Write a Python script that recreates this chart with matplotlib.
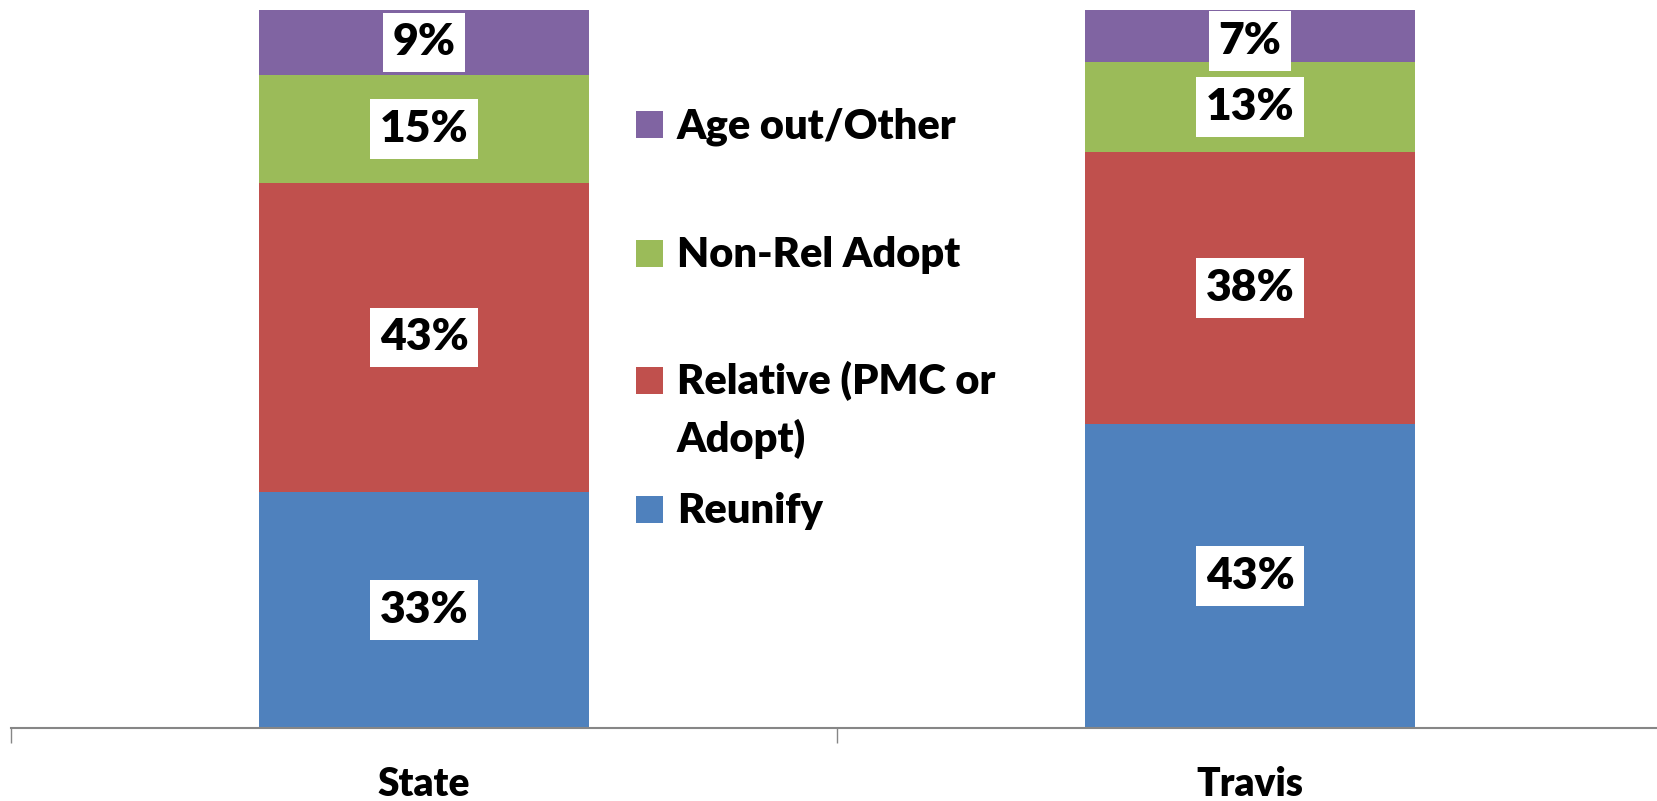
import matplotlib
matplotlib.use("Agg")
import matplotlib.pyplot as plt
from matplotlib.patches import Rectangle
import numpy as np

# ---- data ----
categories = ["State", "Travis"]
series_names = ["Reunify", "Relative (PMC or\nAdopt)", "Non-Rel Adopt", "Age out/Other"]
reunify = [32.9, 42.4]
relative = [43.0, 37.8]
nonrel = [15.1, 12.6]
ageout = [9.0, 7.2]
label_reunify = ["33%", "43%"]
label_relative = ["43%", "38%"]
label_nonrel = ["15%", "13%"]
label_ageout = ["9%", "7%"]

colors = ["#4F81BD", "#C0504D", "#9BBB59", "#8064A2"]
FONT = "Lato"
WEIGHT = "heavy"

W, H = 1658, 801
fig = plt.figure(figsize=(W / 100, H / 100), dpi=100)
ax = fig.add_axes([11 / W, (H - 728) / H, 1652 / W, (728 - 10) / H])

series = [reunify, relative, nonrel, ageout]
labels = [label_reunify, label_relative, label_nonrel, label_ageout]
x = np.arange(len(categories))
bottom = np.zeros(len(categories))
for vals, labs, col in zip(series, labels, colors):
    vals = np.array(vals)
    ax.bar(x, vals, width=0.4, bottom=bottom, color=col, edgecolor="none", zorder=2)
    for xi, b, v, lab in zip(x, bottom, vals, labs):
        yc = b + v / 2
        yc = min(yc, 100 - 4.3)
        ax.text(xi, yc, lab, ha="center", va="center", fontsize=32, fontweight=WEIGHT,
                family=FONT, color="black", zorder=4,
                bbox=dict(boxstyle="square,pad=0.22", facecolor="white", edgecolor="none"))
    bottom = bottom + vals

ax.set_xlim(-0.5, 1.5)
ax.set_ylim(0, 100)
for s in ["top", "right", "left"]:
    ax.spines[s].set_visible(False)
ax.spines["bottom"].set_color("#868686")
ax.spines["bottom"].set_linewidth(1.5)
ax.set_yticks([])
ax.set_xticks(x)
ax.set_xticklabels(categories, fontsize=28, fontweight=WEIGHT, family=FONT)
ax.tick_params(axis="x", which="major", length=0, pad=27)
ax.set_xticks([-0.5, 0.5, 1.5], minor=True)
ax.tick_params(axis="x", which="minor", length=10.8, width=1.0, color="#868686", direction="out")

# ---- legend (manual, Excel-like layout) ----
def fy(py):
    return 1 - py / H

leg_order = [3, 2, 1, 0]
baselines = [138, 267, 394, 523]
sq = 27
for idx, base in zip(leg_order, baselines):
    fig.add_artist(Rectangle((636 / W, fy(base)), sq / W, sq / H,
                             transform=fig.transFigure, facecolor=colors[idx], edgecolor="none"))
    lines = series_names[idx].split("\n")
    for k, ln in enumerate(lines):
        fig.text(677 / W, fy(base + k * 58), ln, ha="left", va="baseline",
                 fontsize=30, fontweight=WEIGHT, family=FONT, color="black")

fig.savefig("out.png", dpi=100, facecolor="white")
